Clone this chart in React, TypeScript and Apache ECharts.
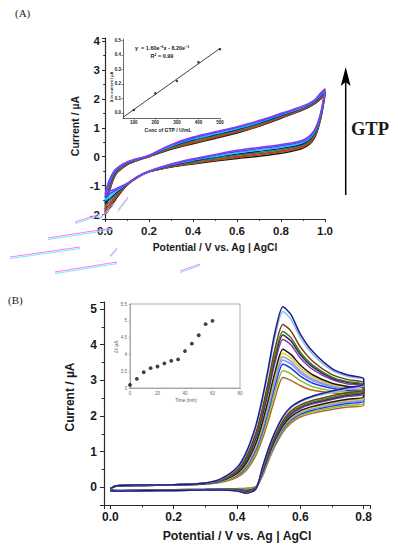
import React, { useEffect, useRef } from "react";
import * as echarts from "echarts";

// ---------- Panel A : CV loops (potential / V, current / µA) ----------
const xA = [0, 0.02, 0.05, 0.1, 0.15, 0.2, 0.3, 0.4, 0.5, 0.6, 0.7, 0.8, 0.9, 0.95, 0.98, 1.0];
const aColors = ["#111111", "#9a5b1e", "#e02424", "#1a9a3a", "#14148a", "#22c8ee", "#3a4cff", "#8a3cf0"];
const aUpper = [
  [-2.0, -1.2, -0.6, -0.28, -0.12, 0.0, 0.26, 0.45, 0.63, 0.82, 1.05, 1.33, 1.62, 1.82, 2.0, 2.15],
  [-1.92, -1.15, -0.58, -0.27, -0.11, 0.01, 0.28, 0.48, 0.66, 0.85, 1.07, 1.35, 1.64, 1.84, 2.02, 2.17],
  [-1.83, -1.1, -0.56, -0.26, -0.11, 0.01, 0.3, 0.51, 0.69, 0.88, 1.1, 1.37, 1.65, 1.85, 2.05, 2.2],
  [-1.72, -1.04, -0.53, -0.24, -0.1, 0.02, 0.32, 0.54, 0.72, 0.91, 1.13, 1.4, 1.67, 1.87, 2.08, 2.23],
  [-1.62, -0.98, -0.5, -0.23, -0.09, 0.03, 0.35, 0.58, 0.76, 0.94, 1.16, 1.42, 1.69, 1.89, 2.11, 2.26],
  [-1.51, -0.92, -0.47, -0.21, -0.08, 0.04, 0.37, 0.61, 0.79, 0.97, 1.19, 1.45, 1.71, 1.91, 2.14, 2.29],
  [-1.41, -0.86, -0.45, -0.2, -0.07, 0.04, 0.4, 0.64, 0.83, 1.01, 1.22, 1.47, 1.73, 1.93, 2.17, 2.32],
  [-1.3, -0.8, -0.42, -0.18, -0.06, 0.05, 0.42, 0.68, 0.86, 1.04, 1.25, 1.5, 1.75, 1.95, 2.2, 2.35],
];
const aLower = [
  [-2.0, -1.8, -1.45, -0.98, -0.7, -0.52, -0.36, -0.25, -0.15, -0.06, 0.02, 0.12, 0.3, 0.62, 1.3, 2.15],
  [-1.92, -1.73, -1.41, -0.97, -0.7, -0.52, -0.35, -0.23, -0.12, -0.03, 0.06, 0.16, 0.33, 0.65, 1.32, 2.17],
  [-1.83, -1.65, -1.36, -0.97, -0.7, -0.52, -0.33, -0.2, -0.09, 0.01, 0.1, 0.2, 0.37, 0.69, 1.35, 2.2],
  [-1.72, -1.56, -1.31, -0.96, -0.69, -0.51, -0.32, -0.18, -0.06, 0.05, 0.14, 0.24, 0.41, 0.73, 1.38, 2.23],
  [-1.62, -1.47, -1.26, -0.95, -0.69, -0.51, -0.3, -0.15, -0.02, 0.09, 0.19, 0.29, 0.45, 0.77, 1.41, 2.26],
  [-1.51, -1.38, -1.2, -0.94, -0.69, -0.51, -0.28, -0.12, 0.01, 0.14, 0.23, 0.33, 0.5, 0.82, 1.44, 2.29],
  [-1.41, -1.29, -1.15, -0.93, -0.68, -0.5, -0.27, -0.1, 0.05, 0.18, 0.28, 0.38, 0.54, 0.86, 1.47, 2.32],
  [-1.3, -1.2, -1.1, -0.92, -0.68, -0.5, -0.25, -0.07, 0.08, 0.22, 0.32, 0.42, 0.58, 0.9, 1.5, 2.35],
];

// Panel A inset: calibration
const concGTP = [100, 200, 300, 400, 500];
const deltaCurrent = [0.02, 0.135, 0.22, 0.35, 0.44];
const fitX = [50, 500];
const fitY = [-0.03, 0.445];

// ---------- Panel B : CV loops ----------
const xB = [0, 0.02, 0.1, 0.2, 0.3, 0.35, 0.4, 0.43, 0.46, 0.48, 0.5, 0.52, 0.545, 0.57, 0.6, 0.64, 0.7, 0.75, 0.8];
const bColors = ["#b8652a", "#86c42a", "#2236e6", "#6aa0f0", "#a58cf5", "#e2d21a", "#1c1c1c", "#8c3ab0", "#2a2a50", "#3c7a22", "#7a3c14", "#86c0e4", "#1c1c8c"];
const bForward = [
  [-0.04, 0.03, 0.05, 0.06, 0.09, 0.14, 0.28, 0.48, 0.9, 1.35, 1.9, 2.5, 3.08, 3.0, 2.85, 2.72, 2.65, 2.62, 2.6],
  [-0.04, 0.03, 0.05, 0.06, 0.09, 0.15, 0.31, 0.53, 0.98, 1.46, 2.04, 2.68, 3.27, 3.18, 2.99, 2.82, 2.71, 2.67, 2.64],
  [-0.04, 0.03, 0.05, 0.06, 0.1, 0.16, 0.33, 0.58, 1.06, 1.56, 2.18, 2.84, 3.45, 3.34, 3.12, 2.92, 2.78, 2.72, 2.68],
  [-0.04, 0.03, 0.05, 0.06, 0.1, 0.16, 0.35, 0.61, 1.11, 1.63, 2.27, 2.96, 3.57, 3.46, 3.21, 2.99, 2.82, 2.75, 2.71],
  [-0.04, 0.03, 0.05, 0.06, 0.1, 0.17, 0.36, 0.63, 1.15, 1.68, 2.34, 3.04, 3.66, 3.54, 3.27, 3.03, 2.85, 2.77, 2.73],
  [-0.04, 0.03, 0.05, 0.06, 0.1, 0.17, 0.37, 0.66, 1.19, 1.74, 2.41, 3.13, 3.76, 3.63, 3.35, 3.09, 2.88, 2.8, 2.75],
  [-0.04, 0.03, 0.05, 0.06, 0.1, 0.18, 0.39, 0.69, 1.24, 1.81, 2.5, 3.23, 3.87, 3.73, 3.43, 3.15, 2.92, 2.83, 2.78],
  [-0.04, 0.04, 0.05, 0.07, 0.11, 0.19, 0.43, 0.76, 1.36, 1.97, 2.71, 3.5, 4.15, 4.0, 3.63, 3.3, 3.02, 2.9, 2.84],
  [-0.04, 0.04, 0.06, 0.07, 0.11, 0.2, 0.44, 0.79, 1.41, 2.04, 2.8, 3.61, 4.27, 4.11, 3.72, 3.37, 3.06, 2.94, 2.87],
  [-0.04, 0.04, 0.06, 0.07, 0.11, 0.2, 0.45, 0.82, 1.45, 2.1, 2.87, 3.7, 4.37, 4.2, 3.79, 3.42, 3.09, 2.96, 2.89],
  [-0.04, 0.04, 0.06, 0.07, 0.11, 0.21, 0.48, 0.87, 1.54, 2.21, 3.02, 3.89, 4.57, 4.39, 3.94, 3.53, 3.16, 3.02, 2.94],
  [-0.04, 0.04, 0.06, 0.07, 0.12, 0.23, 0.53, 0.96, 1.69, 2.42, 3.3, 4.22, 4.93, 4.72, 4.2, 3.72, 3.28, 3.11, 3.02],
  [-0.04, 0.04, 0.06, 0.07, 0.12, 0.24, 0.55, 1.0, 1.75, 2.5, 3.4, 4.35, 5.07, 4.85, 4.3, 3.8, 3.33, 3.15, 3.05],
];
const bReverse = [
  [-0.08, -0.09, -0.08, -0.07, -0.06, -0.05, -0.04, -0.03, 0.02, 0.3, 0.75, 1.15, 1.55, 1.8, 1.97, 2.08, 2.18, 2.25, 2.3],
  [-0.08, -0.09, -0.08, -0.07, -0.06, -0.05, -0.05, -0.04, 0.01, 0.32, 0.78, 1.19, 1.59, 1.84, 2.01, 2.13, 2.23, 2.3, 2.36],
  [-0.08, -0.09, -0.08, -0.07, -0.06, -0.05, -0.05, -0.06, 0.01, 0.35, 0.82, 1.22, 1.63, 1.88, 2.05, 2.17, 2.28, 2.35, 2.41],
  [-0.09, -0.1, -0.09, -0.08, -0.07, -0.06, -0.05, -0.06, 0.0, 0.36, 0.84, 1.25, 1.66, 1.91, 2.08, 2.2, 2.31, 2.39, 2.44],
  [-0.09, -0.1, -0.09, -0.08, -0.07, -0.06, -0.06, -0.07, 0.0, 0.37, 0.85, 1.27, 1.68, 1.93, 2.1, 2.22, 2.33, 2.41, 2.47],
  [-0.09, -0.1, -0.09, -0.08, -0.07, -0.06, -0.06, -0.08, 0.0, 0.39, 0.87, 1.29, 1.7, 1.95, 2.12, 2.24, 2.36, 2.44, 2.5],
  [-0.09, -0.1, -0.09, -0.08, -0.07, -0.06, -0.06, -0.09, -0.01, 0.4, 0.89, 1.31, 1.72, 1.98, 2.15, 2.27, 2.39, 2.47, 2.53],
  [-0.09, -0.1, -0.09, -0.08, -0.07, -0.07, -0.07, -0.11, -0.02, 0.43, 0.94, 1.37, 1.78, 2.04, 2.21, 2.34, 2.46, 2.55, 2.61],
  [-0.1, -0.11, -0.1, -0.09, -0.08, -0.07, -0.08, -0.11, -0.02, 0.45, 0.96, 1.39, 1.81, 2.07, 2.24, 2.37, 2.49, 2.58, 2.65],
  [-0.1, -0.11, -0.1, -0.09, -0.08, -0.07, -0.08, -0.12, -0.03, 0.46, 0.98, 1.41, 1.83, 2.09, 2.26, 2.39, 2.52, 2.61, 2.68],
  [-0.1, -0.11, -0.1, -0.09, -0.08, -0.08, -0.09, -0.13, -0.03, 0.49, 1.01, 1.45, 1.87, 2.14, 2.31, 2.44, 2.57, 2.66, 2.73],
  [-0.1, -0.11, -0.1, -0.09, -0.08, -0.08, -0.1, -0.16, -0.05, 0.53, 1.08, 1.52, 1.95, 2.22, 2.39, 2.53, 2.66, 2.76, 2.84],
  [-0.1, -0.11, -0.1, -0.09, -0.08, -0.08, -0.11, -0.17, -0.05, 0.55, 1.1, 1.55, 1.98, 2.25, 2.42, 2.56, 2.7, 2.8, 2.88],
];

// Panel B inset: peak current vs time
const timeMin = [0, 5, 10, 15, 20, 25, 30, 35, 40, 45, 50, 55, 60];
const peakCurrent = [3.09, 3.27, 3.47, 3.59, 3.64, 3.73, 3.81, 3.85, 4.1, 4.32, 4.57, 4.9, 5.0];

const SANS = '"Liberation Sans", Arial, sans-serif';
const SERIF = '"Liberation Serif", "Times New Roman", serif';

function loopData(xs: number[], up: number[], low: number[], dropJoin: boolean) {
  const pts: number[][] = xs.map((x, j) => [x, up[j]]);
  const start = dropJoin ? xs.length - 2 : xs.length - 1;
  for (let j = start; j >= 0; j--) pts.push([xs[j], low[j]]);
  return pts;
}

function axis(o: any) {
  const color = o.color || "#2a2a2a";
  return {
    gridIndex: o.grid,
    type: "value",
    min: o.min,
    max: o.max,
    interval: o.interval,
    splitNumber: o.splitNumber,
    splitLine: { show: false },
    axisLine: { show: true, onZero: false, lineStyle: { color, width: o.lw ?? 1.2 } },
    axisTick: { show: true, length: o.tick ?? 3, lineStyle: { color, width: o.tw ?? 1 } },
    minorTick: { show: o.minor ?? true, splitNumber: 2, length: (o.tick ?? 3) * 0.6, lineStyle: { color, width: o.tw ?? 1 } },
    axisLabel: {
      color: o.labelColor || "#1a1a1a",
      fontWeight: o.bold === false ? "normal" : "bold",
      fontSize: o.fs,
      fontFamily: SANS,
      margin: o.margin ?? 5,
      showMinLabel: o.showMin ?? true,
      showMaxLabel: o.showMax ?? true,
      formatter: o.fmt,
    },
  };
}

const streaks = [
  [75, 222, 100, 214], [48, 238, 112, 228], [10, 257, 80, 247], [110, 256, 117, 248],
  [55, 272, 117, 262], [180, 271, 200, 264], [100, 218, 115, 202], [118, 210, 128, 197],
];

function buildOption() {
  const series: any[] = [];
  aUpper.forEach((up, i) => {
    series.push({
      type: "line", xAxisIndex: 0, yAxisIndex: 0, showSymbol: false, smooth: 0.3,
      data: loopData(xA, up, aLower[i], true),
      lineStyle: { color: aColors[i], width: 1.5 }, itemStyle: { color: aColors[i] },
    });
  });
  series.push({
    type: "line", xAxisIndex: 1, yAxisIndex: 1, showSymbol: false,
    data: fitX.map((x, j) => [x, fitY[j]]), lineStyle: { color: "#111", width: 0.8 },
  });
  series.push({
    type: "scatter", xAxisIndex: 1, yAxisIndex: 1, symbolSize: 2.5,
    data: concGTP.map((x, j) => [x, deltaCurrent[j]]), itemStyle: { color: "#111" },
  });
  bForward.forEach((fw, i) => {
    series.push({
      type: "line", xAxisIndex: 2, yAxisIndex: 2, showSymbol: false, smooth: 0.25,
      data: loopData(xB, fw, bReverse[i], false),
      lineStyle: { color: bColors[i], width: 1.5 }, itemStyle: { color: bColors[i] },
    });
  });
  series.push({
    type: "scatter", xAxisIndex: 3, yAxisIndex: 3, symbolSize: 3.8,
    data: timeMin.map((t, j) => [t, peakCurrent[j]]), itemStyle: { color: "#111" },
  });

  const txt = (text: string, x: number, y: number, fs: number, opts: any = {}) => ({
    type: "text", x, y, rotation: opts.rot || 0, z: 100,
    style: {
      text, fill: opts.color || "#1a1a1a", fontSize: fs, fontWeight: opts.weight || "bold",
      fontFamily: opts.family || SANS, align: opts.align || "center", verticalAlign: "middle",
    },
  });

  const graphic: any[] = [
    txt("(A)", 15, 13, 11, { weight: "normal", family: SERIF, align: "left" }),
    txt("(B)", 8, 300, 11, { weight: "normal", family: SERIF, align: "left" }),
    txt("GTP", 370, 129, 18.5, { family: SERIF }),
    { type: "line", shape: { x1: 345.7, y1: 195, x2: 345.7, y2: 80 }, style: { stroke: "#000", lineWidth: 1.5 } },
    { type: "polygon", shape: { points: [[345.7, 67], [340.8, 86], [345.7, 82], [350.6, 86]] }, style: { fill: "#000" } },
    txt("Current / µA", 75, 126, 10.5, { rot: Math.PI / 2 }),
    txt("Potential / V vs. Ag | AgCl", 215, 247.5, 10.3),
    txt("Current / µA", 70, 397, 12, { rot: Math.PI / 2 }),
    txt("Potential / V vs. Ag | AgCl", 237, 536, 12.3),
    txt("y  = 1.60e⁻³x - 8.20e⁻³", 162, 47.5, 5.5),
    txt("R² = 0.99", 162, 56, 5.5),
    txt("Δ in current / µA", 111.5, 87, 4, { rot: Math.PI / 2 }),
    txt("Conc of GTP / U/mL", 168, 130, 5),
    txt("ΔI/ µA", 116, 347, 4.5, { rot: Math.PI / 2, weight: "normal", color: "#555" }),
    txt("Time (min)", 186, 400, 4.5, { weight: "normal", color: "#555" }),
  ];
  streaks.forEach((s) => {
    graphic.push({ type: "line", shape: { x1: s[0], y1: s[1], x2: s[2], y2: s[3] }, style: { stroke: "#ff7af0", lineWidth: 1 }, z: 50 });
    graphic.push({ type: "line", shape: { x1: s[0], y1: s[1] + 1.6, x2: s[2], y2: s[3] + 1.6 }, style: { stroke: "#72eeff", lineWidth: 1 }, z: 50 });
  });

  return {
    animation: false,
    backgroundColor: "#ffffff",
    textStyle: { fontFamily: SANS },
    grid: [
      { left: 105, top: 38, width: 220, height: 181 },
      { left: 123, top: 39, width: 97, height: 79 },
      { left: 104, top: 302, width: 266, height: 203 },
      { left: 130, top: 304, width: 110, height: 84, show: true, borderColor: "#9a9a9a", borderWidth: 0.8, backgroundColor: "rgba(0,0,0,0)" },
    ],
    xAxis: [
      axis({ grid: 0, min: 0, max: 1, interval: 0.2, fs: 11.5, margin: 6, fmt: (v: number) => v.toFixed(1) }),
      axis({ grid: 1, min: 50, max: 500, splitNumber: 5, fs: 4.5, margin: 2, tick: 1.5, lw: 0.7, tw: 0.6, minor: false, showMin: false }),
      axis({ grid: 2, min: -0.02, max: 0.82, splitNumber: 4, fs: 12, margin: 6, tick: 4, showMin: false, showMax: false, fmt: (v: number) => v.toFixed(1) }),
      axis({ grid: 3, min: 0, max: 80, interval: 20, fs: 4.5, margin: 3, tick: 1.5, lw: 0.8, tw: 0.6, minor: false, bold: false, color: "#9a9a9a", labelColor: "#666" }),
    ],
    yAxis: [
      axis({ grid: 0, min: -2.15, max: 4.1, splitNumber: 6, fs: 11.5, margin: 5, showMin: false, showMax: false }),
      axis({ grid: 1, min: -0.035, max: 0.51, splitNumber: 5, fs: 4.5, margin: 2, tick: 1.5, lw: 0.7, tw: 0.6, minor: false, showMin: false, showMax: false, fmt: (v: number) => v.toFixed(1) }),
      axis({ grid: 2, min: -0.5, max: 5.2, splitNumber: 6, fs: 12, margin: 7, tick: 4, showMin: false, showMax: false }),
      axis({ grid: 3, min: 3, max: 5.5, interval: 0.5, fs: 4.5, margin: 3, tick: 1.5, lw: 0.8, tw: 0.6, minor: false, bold: false, color: "#9a9a9a", labelColor: "#666" }),
    ],
    series,
    graphic,
  };
}

export default function App() {
  const ref = useRef<HTMLDivElement>(null);
  useEffect(() => {
    document.body.style.margin = "0";
    const chart = echarts.init(ref.current!, undefined, { renderer: "svg" });
    chart.setOption(buildOption() as any);
    return () => chart.dispose();
  }, []);
  return <div ref={ref} style={{ width: 398, height: 550, background: "#fff" }} />;
}
